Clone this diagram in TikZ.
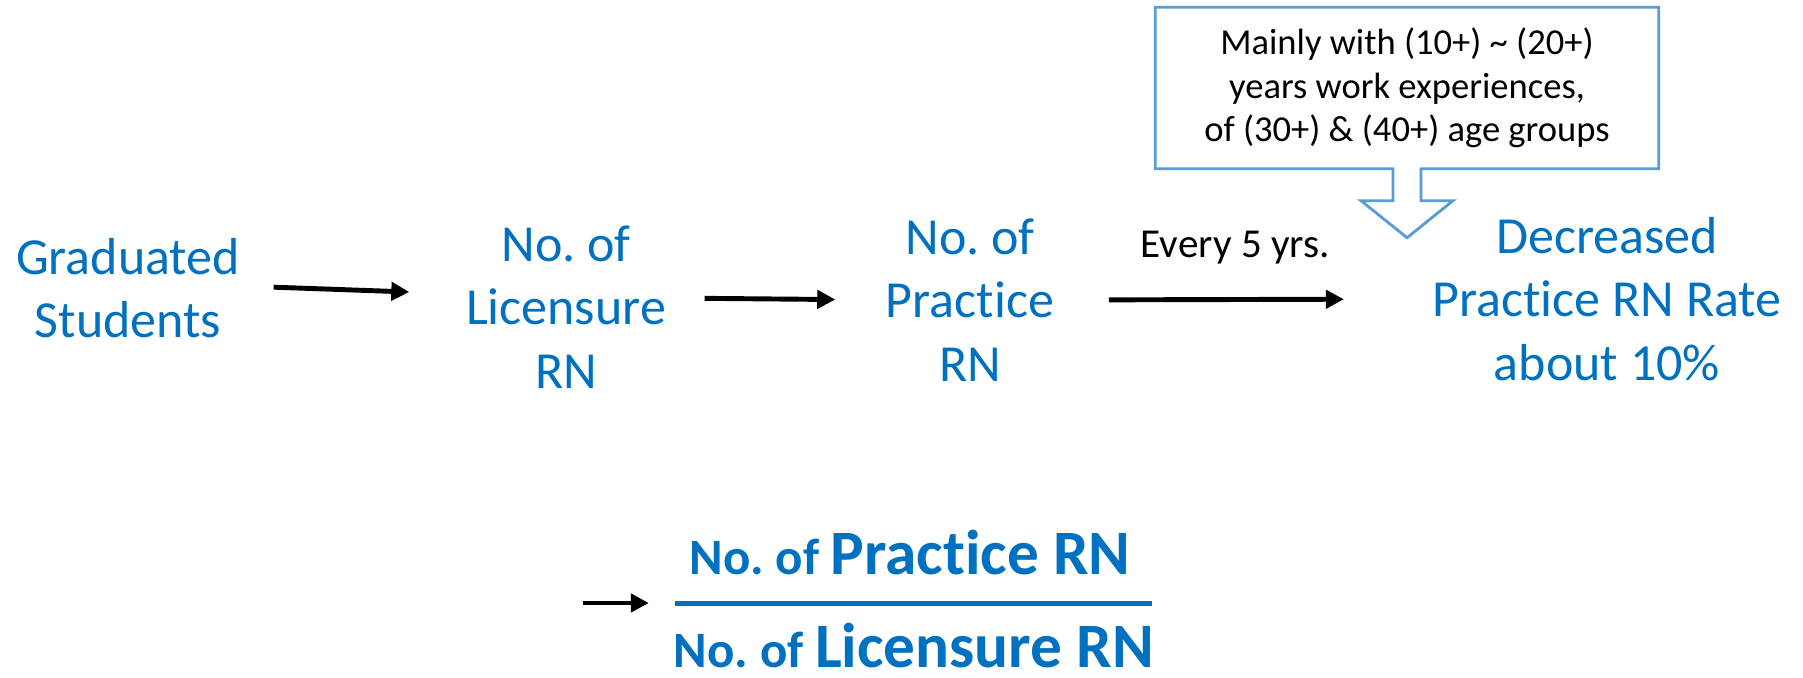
\documentclass[tikz,border=0pt]{standalone}
\usepackage{fontspec}
\setmainfont{Carlito}[Ligatures={NoCommon,NoContextual}]
\usepackage{tikz}
\usetikzlibrary{arrows.meta}
\usepackage{xcolor}
\definecolor{rnblue}{HTML}{0070C0}
\definecolor{noteblue}{HTML}{5B9BD5}
\frenchspacing
\tikzstyle{flow} = [text=rnblue, align=center, inner sep=0pt, font=\fontsize{14.8}{18.1}\selectfont]
\tikzstyle{note} = [align=center, inner sep=0pt, minimum width=5.02cm, minimum height=1.6cm, font=\fontsize{10.4}{12.4}\selectfont]
\tikzstyle{lbl} = [inner sep=0pt, font=\fontsize{11.7}{14}\selectfont]
\tikzstyle{callout} = [draw=noteblue, line width=0.8pt, line join=miter]
\tikzstyle{arrow} = [line width=1.4pt,->,>={Triangle[length=1.8mm,width=1.8mm]}]

\begin{document}
\begin{tikzpicture}[x=0.1mm, y=-0.1mm]
		\useasboundingbox (0,0) rectangle (1803,678);

		%Flow
		\node[flow] (grad) at (128,288) {Graduated\\Students};
		\node[flow] (lic) at (566,307) {No. of\\Licensure\\RN};
		\node[flow] (prac) at (970,300) {No. of\\Practice\\RN};
		\node[flow] (dec) at (1607,299) {Decreased\\Practice RN Rate\\about 10\%};

		%connections
		\draw[arrow, shorten <=3.3mm, shorten >=5.6mm] ([yshift=0.2mm]grad.east) -- ([yshift=1.3mm]lic.west);
		\draw[arrow, shorten <=3.8mm, shorten >=5mm] ([yshift=0.9mm]lic.east) -- (prac.west);
		\draw[arrow, shorten <=5.4mm, shorten >=8.8mm] (prac.east) -- node[lbl, above=3.3mm, xshift=-0.8mm] (every5) {Every 5 yrs.} (dec.west);

		%Note
		\node[note] (note) at (1407,88) {Mainly with (10+) \textasciitilde{} (20+)\\years work experiences,\\of (30+) \& (40+) age groups};
		\draw[callout] (note.north west) -- (note.north east) -- (note.south east) -- ([xshift=1.4mm]note.south) -- ++(0,32) -- ++(32,0) -- ++(-46,37) -- ++(-46,-37) -- ++(32,0) -- ++(0,-32) -- (note.south west) -- cycle;

		%Ratio
		\coordinate (ratio_in) at (583,603);
		\node[fill=rnblue, inner sep=0pt, minimum width=4.77cm, minimum height=0.5mm] (ratio_bar) at (913,603) {};
		\node[anchor=base, text=rnblue, inner sep=0pt, font=\bfseries] (ratio_top) at (910,574) {{\fontsize{14.5}{17}\selectfont No. of }{\fontsize{18}{21}\selectfont Practice RN}};
		\node[anchor=base, text=rnblue, inner sep=0pt, font=\bfseries] (ratio_bot) at (914,667) {{\fontsize{14.5}{17}\selectfont No. of }{\fontsize{18}{21}\selectfont Licensure RN}};
		\draw[arrow, shorten >=2.5mm] (ratio_in) -- (ratio_bar.west);

	\end{tikzpicture}
\end{document}
